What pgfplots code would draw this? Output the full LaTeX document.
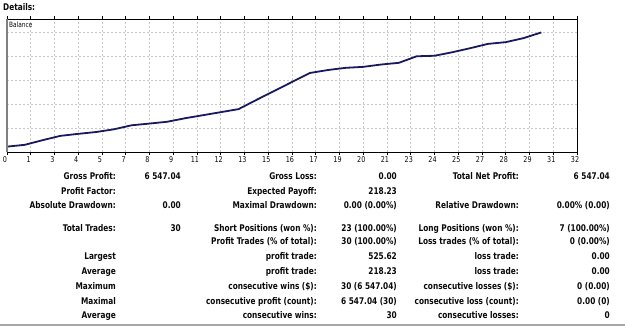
\documentclass[border=0pt]{standalone}
\usepackage{pgfplots}
\pgfplotsset{compat=1.18}
\usepackage{fontspec}
\setmainfont{DejaVu Sans Condensed}[FakeStretch=0.89]
\definecolor{navyline}{RGB}{25,25,95}
\definecolor{gridgray}{RGB}{200,200,200}
\definecolor{txt}{RGB}{10,10,10}
\begin{document}
\begin{tikzpicture}
\path[use as bounding box] (0,0) rectangle (625bp,-326bp);
\tikzset{lab/.style={anchor=base east, inner sep=0pt, text=txt, font=\fontsize{9.2bp}{10bp}\selectfont\bfseries}}
\node[anchor=base west, inner sep=0pt, text=txt, font=\fontsize{9.2bp}{10bp}\selectfont\bfseries] at (3bp,-10.5bp) {Details:};
\begin{axis}[
 at={(7bp,-152bp)}, anchor=south west,
 scale only axis, width=570bp, height=133bp,
 xmin=0, xmax=32, ymin=-308, ymax=7315,
 axis line style={black, line width=0.8bp},
 xtick={0,1.3333,2.6667,4,5.3333,6.6667,8,9.3333,10.6667,12,13.3333,14.6667,16,17.3333,18.6667,20,21.3333,22.6667,24,25.3333,26.6667,28,29.3333,30.6667,32},
 xticklabels={0,1,3,4,5,7,8,9,11,12,13,15,16,17,19,20,21,23,24,25,27,28,29,31,32},
 ytick={1063,2434,3805,5176,6547}, yticklabels={},
 grid=major, major grid style={gridgray, dash pattern=on 2bp off 2bp, line width=0.6bp},
 tick align=outside, major tick length=3bp,
 xtick style={black, line width=0.6bp},
 ytick style={draw=none},
 xticklabel style={font=\fontsize{8bp}{9bp}\selectfont, text=txt, xshift=-2bp, inner sep=0pt, yshift=-1.5bp},
]
\addplot[navyline, line width=1.8bp] coordinates {
(0,0) (1,104) (2,370) (3,618) (4,733) (5,837) (6,993) (7,1224) (8,1322) (9,1426)
(10,1628) (11,1801) (12,1975) (13,2150) (14,2675.62) (15,3190) (16,3705) (17,4220)
(18,4388) (19,4515) (20,4573) (21,4706) (22,4804) (23,5179) (24,5208) (25,5410)
(26,5641) (27,5889) (28,5988) (29,6219) (30,6547.04)
};
\end{axis}
\draw[gray, line width=2bp] (7bp,-19bp) -- (7bp,-152bp);
\node[anchor=west, inner sep=0pt, text=txt, font=\fontsize{7.3bp}{8bp}\selectfont] at (9bp,-25bp) {Balance};
% table
\node[lab] at (116bp,-179bp) {Gross Profit:};
\node[lab] at (181bp,-179bp) {6 547.04};
\node[lab] at (317bp,-179bp) {Gross Loss:};
\node[lab] at (397bp,-179bp) {0.00};
\node[lab] at (519bp,-179bp) {Total Net Profit:};
\node[lab] at (610bp,-179bp) {6 547.04};
\node[lab] at (116bp,-194bp) {Profit Factor:};
\node[lab] at (317bp,-194bp) {Expected Payoff:};
\node[lab] at (397bp,-194bp) {218.23};
\node[lab] at (116bp,-208.5bp) {Absolute Drawdown:};
\node[lab] at (181bp,-208.5bp) {0.00};
\node[lab] at (317bp,-208.5bp) {Maximal Drawdown:};
\node[lab] at (397bp,-208.5bp) {0.00 (0.00\%)};
\node[lab] at (519bp,-208.5bp) {Relative Drawdown:};
\node[lab] at (610bp,-208.5bp) {0.00\% (0.00)};
\node[lab] at (116bp,-231.5bp) {Total Trades:};
\node[lab] at (181bp,-231.5bp) {30};
\node[lab] at (317bp,-231.5bp) {Short Positions (won \%):};
\node[lab] at (397bp,-231.5bp) {23 (100.00\%)};
\node[lab] at (519bp,-231.5bp) {Long Positions (won \%):};
\node[lab] at (610bp,-231.5bp) {7 (100.00\%)};
\node[lab] at (317bp,-244.3bp) {Profit Trades (\% of total):};
\node[lab] at (397bp,-244.3bp) {30 (100.00\%)};
\node[lab] at (519bp,-244.3bp) {Loss trades (\% of total):};
\node[lab] at (610bp,-244.3bp) {0 (0.00\%)};
\node[lab] at (116bp,-259.3bp) {Largest};
\node[lab] at (317bp,-259.3bp) {profit trade:};
\node[lab] at (397bp,-259.3bp) {525.62};
\node[lab] at (519bp,-259.3bp) {loss trade:};
\node[lab] at (610bp,-259.3bp) {0.00};
\node[lab] at (116bp,-274.7bp) {Average};
\node[lab] at (317bp,-274.7bp) {profit trade:};
\node[lab] at (397bp,-274.7bp) {218.23};
\node[lab] at (519bp,-274.7bp) {loss trade:};
\node[lab] at (610bp,-274.7bp) {0.00};
\node[lab] at (116bp,-289bp) {Maximum};
\node[lab] at (317bp,-289bp) {consecutive wins (\$):};
\node[lab] at (397bp,-289bp) {30 (6 547.04)};
\node[lab] at (519bp,-289bp) {consecutive losses (\$):};
\node[lab] at (610bp,-289bp) {0 (0.00)};
\node[lab] at (116bp,-304bp) {Maximal};
\node[lab] at (317bp,-304bp) {consecutive profit (count):};
\node[lab] at (397bp,-304bp) {6 547.04 (30)};
\node[lab] at (519bp,-304bp) {consecutive loss (count):};
\node[lab] at (610bp,-304bp) {0.00 (0)};
\node[lab] at (116bp,-318bp) {Average};
\node[lab] at (317bp,-318bp) {consecutive wins:};
\node[lab] at (397bp,-318bp) {30};
\node[lab] at (519bp,-318bp) {consecutive losses:};
\node[lab] at (610bp,-318bp) {0};
\draw[gray!70, line width=1.5bp] (0,-325bp) -- (625bp,-325bp);
\end{tikzpicture}
\end{document}
